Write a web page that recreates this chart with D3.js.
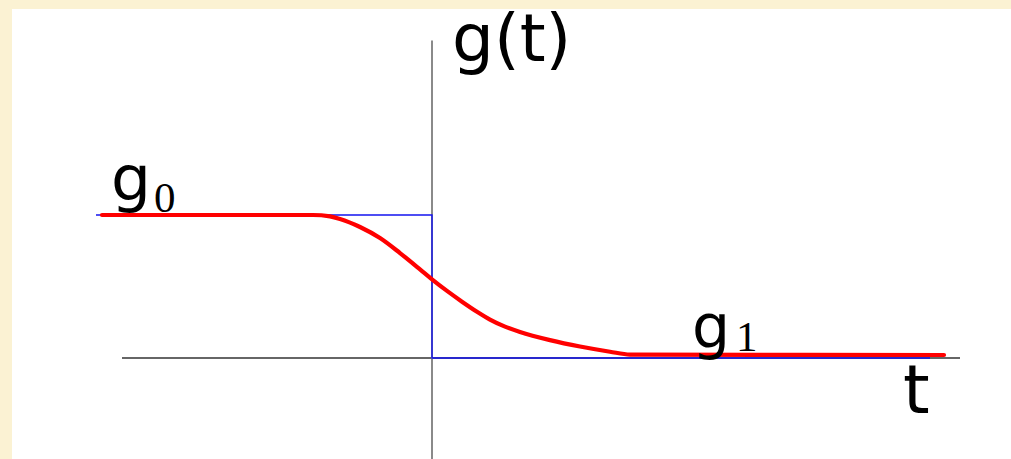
<!DOCTYPE html>
<html>
<head>
<meta charset="utf-8">
<script src="https://cdn.jsdelivr.net/npm/d3@7"></script>
<style>
  html, body { margin: 0; padding: 0; background: #fbf2d3; }
  svg { display: block; }
</style>
</head>
<body>
<svg id="chart" width="1011" height="459"></svg>
<script>
// Smooth relaxation g(t): from g0 before the step down to g1 afterwards
const curveT = [-3.3, -1.19, -1.02, -0.92, -0.72, -0.52, -0.32, -0.12, 0, 0.15, 0.3, 0.45, 0.58, 0.73, 0.88, 1.18, 1.48, 1.78, 1.98, 5.12];
const curveG = [1.0, 1.0, 0.99, 0.972, 0.916, 0.839, 0.734, 0.62, 0.55, 0.469, 0.394, 0.3235, 0.269, 0.2195, 0.182, 0.125, 0.08, 0.044, 0.024, 0.021];

// Ideal step: g0 for t < 0, g1 for t > 0
const stepT = [-3.36, 0, 0, 4.98];
const stepG = [1, 1, 0, 0];

// Axis extents
const axisT = [-3.1, 5.28];
const axisG = [-0.71, 2.22];

const svg = d3.select("#chart");
const W = 1011, H = 459;

// panel
svg.append("rect").attr("x", 0).attr("y", 0).attr("width", W).attr("height", H).attr("fill", "#fbf2d3");
svg.append("rect").attr("x", 12).attr("y", 9).attr("width", W - 12).attr("height", H - 9).attr("fill", "#ffffff");

const x = d3.scaleLinear().domain([-3.1, 5.28]).range([122, 960]);
const y = d3.scaleLinear().domain([0, 1]).range([358, 215]);

// horizontal t axis
svg.append("line")
  .attr("x1", x(axisT[0])).attr("x2", x(axisT[1]))
  .attr("y1", y(0)).attr("y2", y(0))
  .attr("stroke", "#333").attr("stroke-width", 1.4);

// vertical g axis
svg.append("line")
  .attr("x1", x(0)).attr("x2", x(0))
  .attr("y1", y(axisG[1])).attr("y2", y(axisG[0]))
  .attr("stroke", "#8a8a8a").attr("stroke-width", 2);

// step function
const stepData = stepT.map((t, i) => [t, stepG[i]]);
svg.append("path")
  .datum(stepData)
  .attr("fill", "none")
  .attr("stroke", "#1414f0")
  .attr("stroke-width", 1.4)
  .attr("d", d3.line().x(d => x(d[0])).y(d => y(d[1])));

// smooth curve
const curveData = curveT.map((t, i) => [t, curveG[i]]);
svg.append("path")
  .datum(curveData)
  .attr("fill", "none")
  .attr("stroke", "#ff0000")
  .attr("stroke-width", 4.2)
  .attr("stroke-linecap", "round")
  .attr("d", d3.line().curve(d3.curveMonotoneX).x(d => x(d[0])).y(d => y(d[1])));

// labels
const sans = "'DejaVu Sans', Verdana, sans-serif";
const serif = "'Liberation Serif', 'Times New Roman', serif";

svg.append("text").attr("x", 452).attr("y", 61)
  .attr("font-family", sans).attr("font-size", 66).attr("fill", "#000").text("g(t)");

const g0 = svg.append("text").attr("x", 111).attr("y", 200)
  .attr("font-family", sans).attr("font-size", 63).attr("fill", "#000");
g0.append("tspan").text("g");
g0.append("tspan").attr("font-family", serif).attr("font-size", 43).attr("dx", 3).attr("dy", 12).text("0");

const g1 = svg.append("text").attr("x", 692).attr("y", 347)
  .attr("font-family", sans).attr("font-size", 60).attr("fill", "#000");
g1.append("tspan").text("g");
g1.append("tspan").attr("font-family", serif).attr("font-size", 43).attr("dx", 6).attr("dy", 4).text("1");

svg.append("text").attr("x", 903).attr("y", 413)
  .attr("font-family", sans).attr("font-size", 68).attr("fill", "#000").text("t");
</script>
</body>
</html>
